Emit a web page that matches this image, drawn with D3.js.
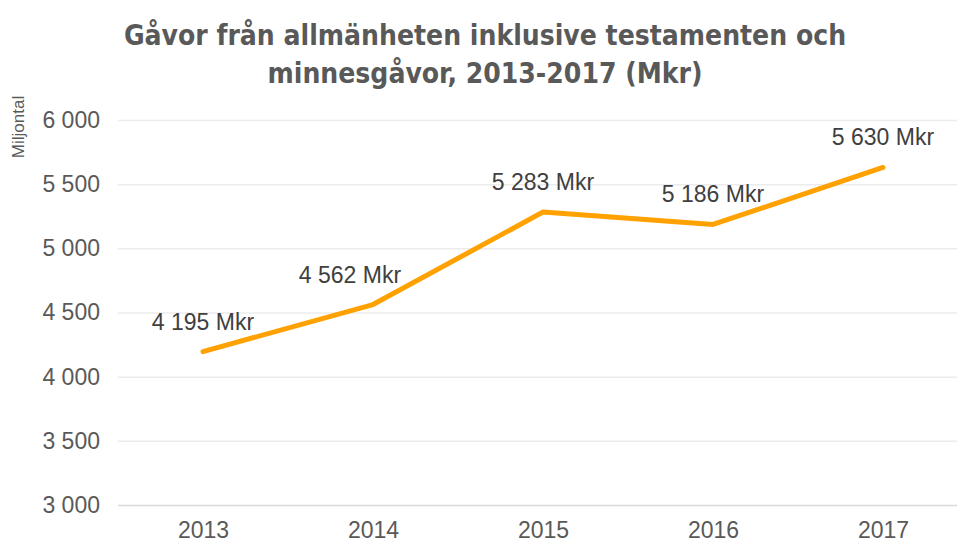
<!DOCTYPE html>
<html>
<head>
<meta charset="utf-8">
<script src="https://cdn.jsdelivr.net/npm/d3@7"></script>
<style>
  html, body { margin: 0; padding: 0; background: #fff; }
  svg { display: block; }
</style>
</head>
<body>
<svg id="chart" width="957" height="545"></svg>
<script>
// ===== DATA =====
const years = ['2013', '2014', '2015', '2016', '2017'];
const gifts = [4195, 4562, 5283, 5186, 5630];
const yTicks = [3000, 3500, 4000, 4500, 5000, 5500, 6000];
const titleLines = ['Gåvor från allmänheten inklusive testamenten och', 'minnesgåvor, 2013-2017 (Mkr)'];
const yAxisTitle = 'Miljontal';

const fmt = v => d3.format(',')(v).replace(/,/g, ' ');

const svg = d3.select('#chart');
const W = 957, H = 545;
const margin = { top: 120, right: -11, bottom: 40, left: 118 };

const x = d3.scalePoint().domain(years).range([margin.left, W - margin.right]).padding(0.5);
const y = d3.scaleLinear().domain([3000, 6000]).range([505, 120]);

// title
svg.append('g').selectAll('text')
    .data(titleLines)
    .join('text')
    .attr('x', 485)
    .attr('y', (d, i) => 45 + i * 38)
    .attr('text-anchor', 'middle')
    .attr('fill', '#595959')
    .style('font-family', '"DejaVu Sans Condensed", "Liberation Sans Narrow", sans-serif')
    .style('font-stretch', 'condensed')
    .style('font-weight', '700')
    .style('font-size', '28px')
    .text(d => d);

// gridlines + y axis
const yAxisG = svg.append('g')
    .attr('transform', `translate(${margin.left},0)`)
    .call(d3.axisLeft(y).tickValues(yTicks).tickFormat(fmt).tickSize(-(W - margin.left)).tickPadding(18));
yAxisG.select('.domain').remove();
yAxisG.selectAll('line').attr('stroke', '#ececec').attr('stroke-width', 1.5);
yAxisG.selectAll('line').filter(d => d === 3000).attr('stroke', '#d9d9d9');
yAxisG.selectAll('text')
    .attr('fill', '#595959')
    .style('font-family', '"Liberation Sans", Arial, sans-serif')
    .style('font-size', '23px');

// x axis
const xAxisG = svg.append('g')
    .attr('transform', `translate(0,505)`)
    .call(d3.axisBottom(x).tickSize(0).tickPadding(17));
xAxisG.select('.domain').remove();
xAxisG.selectAll('text')
    .attr('fill', '#595959')
    .style('font-family', '"Liberation Sans", Arial, sans-serif')
    .style('font-size', '23px');

// y axis title
svg.append('text')
    .attr('transform', 'translate(24,127) rotate(-90)')
    .attr('text-anchor', 'middle')
    .attr('fill', '#595959')
    .style('font-family', '"Liberation Sans", Arial, sans-serif')
    .style('font-size', '17px')
    .text(yAxisTitle);

// line
const line = d3.line()
    .x((d, i) => x(years[i]))
    .y(d => y(d));

svg.append('path')
    .datum(gifts)
    .attr('d', line)
    .attr('fill', 'none')
    .attr('stroke', '#ffa100')
    .attr('stroke-width', 5)
    .attr('stroke-linejoin', 'round')
    .attr('stroke-linecap', 'round');

// data labels
svg.append('g').selectAll('text')
    .data(gifts)
    .join('text')
    .attr('x', (d, i) => x(years[i]) + (i === 1 ? -23 : 0))
    .attr('y', d => y(d) - 22)
    .attr('text-anchor', 'middle')
    .attr('fill', '#404040')
    .style('font-family', '"Liberation Sans", Arial, sans-serif')
    .style('font-size', '23px')
    .text(d => `${fmt(d)} Mkr`);
</script>
</body>
</html>
